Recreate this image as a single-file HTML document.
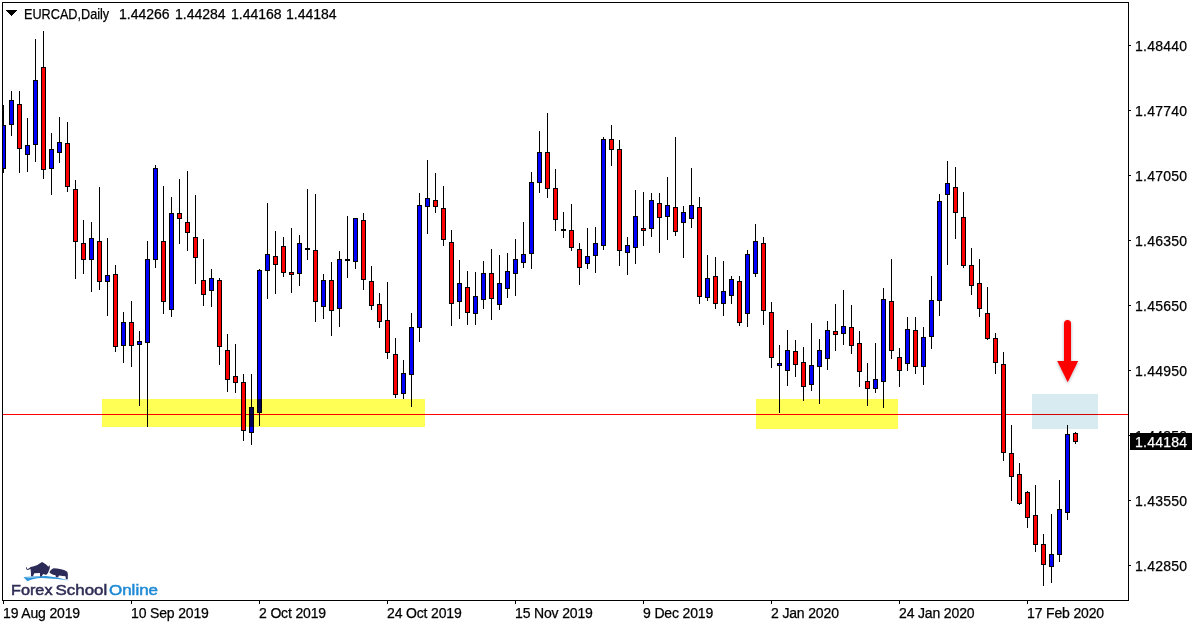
<!DOCTYPE html>
<html><head><meta charset="utf-8"><style>
html,body{margin:0;padding:0;background:#fff;width:1200px;height:627px;overflow:hidden;position:relative}
.t{position:absolute;font-family:"Liberation Sans",sans-serif;font-size:14px;line-height:16px;color:#000;white-space:pre;-webkit-text-stroke:0.25px currentColor}
.pl{position:absolute;left:1135px;letter-spacing:0.25px;-webkit-text-stroke:0.25px currentColor;font-family:"Liberation Sans",sans-serif;font-size:14px;line-height:16px;color:#000;white-space:pre}
.dl{position:absolute;top:605px;letter-spacing:-0.15px;-webkit-text-stroke:0.25px currentColor;font-family:"Liberation Sans",sans-serif;font-size:14px;line-height:16px;color:#000;white-space:pre}
svg{position:absolute;left:0;top:0}
.ov{position:absolute;mix-blend-mode:multiply}
</style></head><body>
<svg width="1200" height="627" shape-rendering="crispEdges">
<defs><clipPath id="cl"><rect x="3" y="3" width="1125" height="597"/></clipPath></defs>
<g fill="#000" clip-path="url(#cl)">
<rect x="3" y="105" width="1" height="68"/>
<rect x="1" y="125" width="5" height="44"/>
<rect x="2" y="126" width="3" height="42" fill="#0000ff"/>
<rect x="11" y="91" width="1" height="45"/>
<rect x="9" y="100" width="5" height="25"/>
<rect x="10" y="101" width="3" height="23" fill="#0000ff"/>
<rect x="19" y="91" width="1" height="82"/>
<rect x="17" y="104" width="5" height="45"/>
<rect x="18" y="105" width="3" height="43" fill="#ff0000"/>
<rect x="27" y="118" width="1" height="54"/>
<rect x="25" y="145" width="5" height="10"/>
<rect x="26" y="146" width="3" height="8" fill="#0000ff"/>
<rect x="35" y="39" width="1" height="123"/>
<rect x="33" y="80" width="5" height="65"/>
<rect x="34" y="81" width="3" height="63" fill="#0000ff"/>
<rect x="43" y="31" width="1" height="148"/>
<rect x="41" y="67" width="5" height="103"/>
<rect x="42" y="68" width="3" height="101" fill="#ff0000"/>
<rect x="51" y="133" width="1" height="62"/>
<rect x="49" y="149" width="5" height="20"/>
<rect x="50" y="150" width="3" height="18" fill="#0000ff"/>
<rect x="59" y="117" width="1" height="46"/>
<rect x="57" y="142" width="5" height="11"/>
<rect x="58" y="143" width="3" height="9" fill="#0000ff"/>
<rect x="67" y="122" width="1" height="70"/>
<rect x="65" y="143" width="5" height="44"/>
<rect x="66" y="144" width="3" height="42" fill="#ff0000"/>
<rect x="75" y="180" width="1" height="99"/>
<rect x="73" y="189" width="5" height="53"/>
<rect x="74" y="190" width="3" height="51" fill="#ff0000"/>
<rect x="83" y="220" width="1" height="54"/>
<rect x="81" y="243" width="5" height="17"/>
<rect x="82" y="244" width="3" height="15" fill="#ff0000"/>
<rect x="91" y="222" width="1" height="70"/>
<rect x="89" y="238" width="5" height="22"/>
<rect x="90" y="239" width="3" height="20" fill="#0000ff"/>
<rect x="99" y="187" width="1" height="103"/>
<rect x="97" y="241" width="5" height="41"/>
<rect x="98" y="242" width="3" height="39" fill="#ff0000"/>
<rect x="107" y="238" width="1" height="78"/>
<rect x="105" y="275" width="5" height="7"/>
<rect x="106" y="276" width="3" height="5" fill="#0000ff"/>
<rect x="115" y="265" width="1" height="87"/>
<rect x="113" y="274" width="5" height="73"/>
<rect x="114" y="275" width="3" height="71" fill="#ff0000"/>
<rect x="123" y="312" width="1" height="51"/>
<rect x="121" y="322" width="5" height="24"/>
<rect x="122" y="323" width="3" height="22" fill="#0000ff"/>
<rect x="131" y="301" width="1" height="66"/>
<rect x="129" y="322" width="5" height="24"/>
<rect x="130" y="323" width="3" height="22" fill="#ff0000"/>
<rect x="139" y="331" width="1" height="75"/>
<rect x="137" y="341" width="5" height="4"/>
<rect x="138" y="342" width="3" height="2" fill="#0000ff"/>
<rect x="147" y="241" width="1" height="186"/>
<rect x="145" y="259" width="5" height="84"/>
<rect x="146" y="260" width="3" height="82" fill="#0000ff"/>
<rect x="155" y="165" width="1" height="103"/>
<rect x="153" y="168" width="5" height="92"/>
<rect x="154" y="169" width="3" height="90" fill="#0000ff"/>
<rect x="163" y="186" width="1" height="128"/>
<rect x="161" y="241" width="5" height="61"/>
<rect x="162" y="242" width="3" height="59" fill="#ff0000"/>
<rect x="171" y="197" width="1" height="120"/>
<rect x="169" y="213" width="5" height="97"/>
<rect x="170" y="214" width="3" height="95" fill="#0000ff"/>
<rect x="179" y="179" width="1" height="65"/>
<rect x="177" y="213" width="5" height="6"/>
<rect x="178" y="214" width="3" height="4" fill="#ff0000"/>
<rect x="187" y="171" width="1" height="80"/>
<rect x="185" y="222" width="5" height="11"/>
<rect x="186" y="223" width="3" height="9" fill="#ff0000"/>
<rect x="195" y="195" width="1" height="89"/>
<rect x="193" y="237" width="5" height="21"/>
<rect x="194" y="238" width="3" height="19" fill="#ff0000"/>
<rect x="203" y="239" width="1" height="67"/>
<rect x="201" y="280" width="5" height="15"/>
<rect x="202" y="281" width="3" height="13" fill="#ff0000"/>
<rect x="211" y="269" width="1" height="38"/>
<rect x="209" y="278" width="5" height="13"/>
<rect x="210" y="279" width="3" height="11" fill="#0000ff"/>
<rect x="219" y="278" width="1" height="87"/>
<rect x="217" y="280" width="5" height="67"/>
<rect x="218" y="281" width="3" height="65" fill="#ff0000"/>
<rect x="227" y="334" width="1" height="58"/>
<rect x="225" y="350" width="5" height="30"/>
<rect x="226" y="351" width="3" height="28" fill="#ff0000"/>
<rect x="235" y="344" width="1" height="49"/>
<rect x="233" y="376" width="5" height="7"/>
<rect x="234" y="377" width="3" height="5" fill="#ff0000"/>
<rect x="243" y="374" width="1" height="67"/>
<rect x="241" y="382" width="5" height="49"/>
<rect x="242" y="383" width="3" height="47" fill="#ff0000"/>
<rect x="251" y="374" width="1" height="71"/>
<rect x="249" y="407" width="5" height="26"/>
<rect x="250" y="408" width="3" height="24" fill="#0000ff"/>
<rect x="259" y="269" width="1" height="157"/>
<rect x="257" y="270" width="5" height="143"/>
<rect x="258" y="271" width="3" height="141" fill="#0000ff"/>
<rect x="267" y="203" width="1" height="96"/>
<rect x="265" y="254" width="5" height="17"/>
<rect x="266" y="255" width="3" height="15" fill="#0000ff"/>
<rect x="275" y="231" width="1" height="63"/>
<rect x="273" y="256" width="5" height="9"/>
<rect x="274" y="257" width="3" height="7" fill="#ff0000"/>
<rect x="283" y="237" width="1" height="40"/>
<rect x="281" y="246" width="5" height="27"/>
<rect x="282" y="247" width="3" height="25" fill="#ff0000"/>
<rect x="291" y="228" width="1" height="65"/>
<rect x="289" y="272" width="5" height="3"/>
<rect x="290" y="273" width="3" height="1" fill="#ff0000"/>
<rect x="299" y="235" width="1" height="51"/>
<rect x="297" y="243" width="5" height="31"/>
<rect x="298" y="244" width="3" height="29" fill="#0000ff"/>
<rect x="307" y="189" width="1" height="71"/>
<rect x="305" y="248" width="5" height="2"/>
<rect x="315" y="194" width="1" height="128"/>
<rect x="313" y="250" width="5" height="52"/>
<rect x="314" y="251" width="3" height="50" fill="#ff0000"/>
<rect x="323" y="274" width="1" height="45"/>
<rect x="321" y="280" width="5" height="27"/>
<rect x="322" y="281" width="3" height="25" fill="#0000ff"/>
<rect x="331" y="262" width="1" height="74"/>
<rect x="329" y="280" width="5" height="31"/>
<rect x="330" y="281" width="3" height="29" fill="#ff0000"/>
<rect x="339" y="251" width="1" height="76"/>
<rect x="337" y="259" width="5" height="50"/>
<rect x="338" y="260" width="3" height="48" fill="#0000ff"/>
<rect x="347" y="216" width="1" height="62"/>
<rect x="345" y="259" width="5" height="2"/>
<rect x="355" y="218" width="1" height="51"/>
<rect x="353" y="218" width="5" height="44"/>
<rect x="354" y="219" width="3" height="42" fill="#0000ff"/>
<rect x="363" y="213" width="1" height="77"/>
<rect x="361" y="220" width="5" height="60"/>
<rect x="362" y="221" width="3" height="58" fill="#ff0000"/>
<rect x="371" y="266" width="1" height="44"/>
<rect x="369" y="281" width="5" height="25"/>
<rect x="370" y="282" width="3" height="23" fill="#ff0000"/>
<rect x="379" y="293" width="1" height="35"/>
<rect x="377" y="304" width="5" height="18"/>
<rect x="378" y="305" width="3" height="16" fill="#ff0000"/>
<rect x="387" y="282" width="1" height="77"/>
<rect x="385" y="320" width="5" height="33"/>
<rect x="386" y="321" width="3" height="31" fill="#ff0000"/>
<rect x="395" y="338" width="1" height="60"/>
<rect x="393" y="354" width="5" height="41"/>
<rect x="394" y="355" width="3" height="39" fill="#ff0000"/>
<rect x="403" y="360" width="1" height="39"/>
<rect x="401" y="373" width="5" height="21"/>
<rect x="402" y="374" width="3" height="19" fill="#0000ff"/>
<rect x="411" y="313" width="1" height="94"/>
<rect x="409" y="327" width="5" height="48"/>
<rect x="410" y="328" width="3" height="46" fill="#0000ff"/>
<rect x="419" y="193" width="1" height="149"/>
<rect x="417" y="205" width="5" height="123"/>
<rect x="418" y="206" width="3" height="121" fill="#0000ff"/>
<rect x="427" y="160" width="1" height="74"/>
<rect x="425" y="198" width="5" height="9"/>
<rect x="426" y="199" width="3" height="7" fill="#0000ff"/>
<rect x="435" y="173" width="1" height="40"/>
<rect x="433" y="200" width="5" height="7"/>
<rect x="434" y="201" width="3" height="5" fill="#ff0000"/>
<rect x="443" y="186" width="1" height="60"/>
<rect x="441" y="208" width="5" height="32"/>
<rect x="442" y="209" width="3" height="30" fill="#ff0000"/>
<rect x="451" y="230" width="1" height="96"/>
<rect x="449" y="242" width="5" height="62"/>
<rect x="450" y="243" width="3" height="60" fill="#ff0000"/>
<rect x="459" y="260" width="1" height="59"/>
<rect x="457" y="283" width="5" height="19"/>
<rect x="458" y="284" width="3" height="17" fill="#0000ff"/>
<rect x="467" y="271" width="1" height="54"/>
<rect x="465" y="287" width="5" height="26"/>
<rect x="466" y="288" width="3" height="24" fill="#ff0000"/>
<rect x="475" y="272" width="1" height="53"/>
<rect x="473" y="296" width="5" height="18"/>
<rect x="474" y="297" width="3" height="16" fill="#0000ff"/>
<rect x="483" y="261" width="1" height="48"/>
<rect x="481" y="273" width="5" height="27"/>
<rect x="482" y="274" width="3" height="25" fill="#0000ff"/>
<rect x="491" y="249" width="1" height="71"/>
<rect x="489" y="273" width="5" height="26"/>
<rect x="490" y="274" width="3" height="24" fill="#ff0000"/>
<rect x="499" y="255" width="1" height="55"/>
<rect x="497" y="283" width="5" height="22"/>
<rect x="498" y="284" width="3" height="20" fill="#0000ff"/>
<rect x="507" y="253" width="1" height="45"/>
<rect x="505" y="271" width="5" height="18"/>
<rect x="506" y="272" width="3" height="16" fill="#0000ff"/>
<rect x="515" y="239" width="1" height="57"/>
<rect x="513" y="259" width="5" height="15"/>
<rect x="514" y="260" width="3" height="13" fill="#0000ff"/>
<rect x="523" y="222" width="1" height="46"/>
<rect x="521" y="254" width="5" height="9"/>
<rect x="522" y="255" width="3" height="7" fill="#0000ff"/>
<rect x="531" y="172" width="1" height="97"/>
<rect x="529" y="182" width="5" height="72"/>
<rect x="530" y="183" width="3" height="70" fill="#0000ff"/>
<rect x="539" y="131" width="1" height="62"/>
<rect x="537" y="152" width="5" height="31"/>
<rect x="538" y="153" width="3" height="29" fill="#0000ff"/>
<rect x="547" y="113" width="1" height="85"/>
<rect x="545" y="152" width="5" height="37"/>
<rect x="546" y="153" width="3" height="35" fill="#ff0000"/>
<rect x="555" y="169" width="1" height="62"/>
<rect x="553" y="188" width="5" height="32"/>
<rect x="554" y="189" width="3" height="30" fill="#ff0000"/>
<rect x="563" y="212" width="1" height="26"/>
<rect x="561" y="229" width="5" height="2"/>
<rect x="571" y="204" width="1" height="47"/>
<rect x="569" y="230" width="5" height="18"/>
<rect x="570" y="231" width="3" height="16" fill="#ff0000"/>
<rect x="579" y="243" width="1" height="42"/>
<rect x="577" y="249" width="5" height="19"/>
<rect x="578" y="250" width="3" height="17" fill="#ff0000"/>
<rect x="587" y="228" width="1" height="41"/>
<rect x="585" y="256" width="5" height="8"/>
<rect x="586" y="257" width="3" height="6" fill="#0000ff"/>
<rect x="595" y="227" width="1" height="46"/>
<rect x="593" y="243" width="5" height="13"/>
<rect x="594" y="244" width="3" height="11" fill="#0000ff"/>
<rect x="603" y="137" width="1" height="113"/>
<rect x="601" y="139" width="5" height="107"/>
<rect x="602" y="140" width="3" height="105" fill="#0000ff"/>
<rect x="611" y="125" width="1" height="41"/>
<rect x="609" y="139" width="5" height="11"/>
<rect x="610" y="140" width="3" height="9" fill="#ff0000"/>
<rect x="619" y="140" width="1" height="126"/>
<rect x="617" y="149" width="5" height="102"/>
<rect x="618" y="150" width="3" height="100" fill="#ff0000"/>
<rect x="627" y="237" width="1" height="38"/>
<rect x="625" y="245" width="5" height="8"/>
<rect x="626" y="246" width="3" height="6" fill="#0000ff"/>
<rect x="635" y="190" width="1" height="74"/>
<rect x="633" y="216" width="5" height="32"/>
<rect x="634" y="217" width="3" height="30" fill="#0000ff"/>
<rect x="643" y="192" width="1" height="54"/>
<rect x="641" y="228" width="5" height="3"/>
<rect x="642" y="229" width="3" height="1" fill="#ff0000"/>
<rect x="651" y="193" width="1" height="44"/>
<rect x="649" y="200" width="5" height="29"/>
<rect x="650" y="201" width="3" height="27" fill="#0000ff"/>
<rect x="659" y="193" width="1" height="60"/>
<rect x="657" y="203" width="5" height="15"/>
<rect x="658" y="204" width="3" height="13" fill="#ff0000"/>
<rect x="667" y="177" width="1" height="63"/>
<rect x="665" y="205" width="5" height="12"/>
<rect x="666" y="206" width="3" height="10" fill="#0000ff"/>
<rect x="675" y="137" width="1" height="99"/>
<rect x="673" y="207" width="5" height="25"/>
<rect x="674" y="208" width="3" height="23" fill="#ff0000"/>
<rect x="683" y="206" width="1" height="52"/>
<rect x="681" y="212" width="5" height="11"/>
<rect x="682" y="213" width="3" height="9" fill="#0000ff"/>
<rect x="691" y="168" width="1" height="60"/>
<rect x="689" y="205" width="5" height="14"/>
<rect x="690" y="206" width="3" height="12" fill="#0000ff"/>
<rect x="699" y="197" width="1" height="107"/>
<rect x="697" y="207" width="5" height="90"/>
<rect x="698" y="208" width="3" height="88" fill="#ff0000"/>
<rect x="707" y="255" width="1" height="46"/>
<rect x="705" y="278" width="5" height="20"/>
<rect x="706" y="279" width="3" height="18" fill="#0000ff"/>
<rect x="715" y="257" width="1" height="52"/>
<rect x="713" y="276" width="5" height="28"/>
<rect x="714" y="277" width="3" height="26" fill="#ff0000"/>
<rect x="723" y="261" width="1" height="55"/>
<rect x="721" y="291" width="5" height="13"/>
<rect x="722" y="292" width="3" height="11" fill="#0000ff"/>
<rect x="731" y="276" width="1" height="28"/>
<rect x="729" y="279" width="5" height="17"/>
<rect x="730" y="280" width="3" height="15" fill="#0000ff"/>
<rect x="739" y="276" width="1" height="50"/>
<rect x="737" y="281" width="5" height="42"/>
<rect x="738" y="282" width="3" height="40" fill="#ff0000"/>
<rect x="747" y="250" width="1" height="77"/>
<rect x="745" y="254" width="5" height="60"/>
<rect x="746" y="255" width="3" height="58" fill="#0000ff"/>
<rect x="755" y="224" width="1" height="53"/>
<rect x="753" y="241" width="5" height="33"/>
<rect x="754" y="242" width="3" height="31" fill="#0000ff"/>
<rect x="763" y="237" width="1" height="88"/>
<rect x="761" y="243" width="5" height="68"/>
<rect x="762" y="244" width="3" height="66" fill="#ff0000"/>
<rect x="771" y="302" width="1" height="66"/>
<rect x="769" y="312" width="5" height="46"/>
<rect x="770" y="313" width="3" height="44" fill="#ff0000"/>
<rect x="779" y="345" width="1" height="68"/>
<rect x="777" y="363" width="5" height="3"/>
<rect x="778" y="364" width="3" height="1" fill="#0000ff"/>
<rect x="787" y="330" width="1" height="56"/>
<rect x="785" y="350" width="5" height="21"/>
<rect x="786" y="351" width="3" height="19" fill="#0000ff"/>
<rect x="795" y="340" width="1" height="37"/>
<rect x="793" y="351" width="5" height="14"/>
<rect x="794" y="352" width="3" height="12" fill="#ff0000"/>
<rect x="803" y="347" width="1" height="54"/>
<rect x="801" y="362" width="5" height="25"/>
<rect x="802" y="363" width="3" height="23" fill="#ff0000"/>
<rect x="811" y="323" width="1" height="68"/>
<rect x="809" y="365" width="5" height="20"/>
<rect x="810" y="366" width="3" height="18" fill="#0000ff"/>
<rect x="819" y="339" width="1" height="65"/>
<rect x="817" y="350" width="5" height="17"/>
<rect x="818" y="351" width="3" height="15" fill="#0000ff"/>
<rect x="827" y="321" width="1" height="49"/>
<rect x="825" y="330" width="5" height="29"/>
<rect x="826" y="331" width="3" height="27" fill="#0000ff"/>
<rect x="835" y="304" width="1" height="47"/>
<rect x="833" y="331" width="5" height="4"/>
<rect x="834" y="332" width="3" height="2" fill="#ff0000"/>
<rect x="843" y="290" width="1" height="55"/>
<rect x="841" y="326" width="5" height="8"/>
<rect x="842" y="327" width="3" height="6" fill="#0000ff"/>
<rect x="851" y="305" width="1" height="49"/>
<rect x="849" y="327" width="5" height="19"/>
<rect x="850" y="328" width="3" height="17" fill="#ff0000"/>
<rect x="859" y="331" width="1" height="56"/>
<rect x="857" y="343" width="5" height="29"/>
<rect x="858" y="344" width="3" height="27" fill="#ff0000"/>
<rect x="867" y="363" width="1" height="43"/>
<rect x="865" y="381" width="5" height="8"/>
<rect x="866" y="382" width="3" height="6" fill="#ff0000"/>
<rect x="875" y="343" width="1" height="50"/>
<rect x="873" y="379" width="5" height="10"/>
<rect x="874" y="380" width="3" height="8" fill="#0000ff"/>
<rect x="883" y="288" width="1" height="120"/>
<rect x="881" y="299" width="5" height="83"/>
<rect x="882" y="300" width="3" height="81" fill="#0000ff"/>
<rect x="891" y="259" width="1" height="100"/>
<rect x="889" y="301" width="5" height="50"/>
<rect x="890" y="302" width="3" height="48" fill="#ff0000"/>
<rect x="899" y="348" width="1" height="39"/>
<rect x="897" y="357" width="5" height="14"/>
<rect x="898" y="358" width="3" height="12" fill="#ff0000"/>
<rect x="907" y="317" width="1" height="54"/>
<rect x="905" y="329" width="5" height="35"/>
<rect x="906" y="330" width="3" height="33" fill="#0000ff"/>
<rect x="915" y="317" width="1" height="57"/>
<rect x="913" y="330" width="5" height="37"/>
<rect x="914" y="331" width="3" height="35" fill="#ff0000"/>
<rect x="923" y="327" width="1" height="58"/>
<rect x="921" y="337" width="5" height="30"/>
<rect x="922" y="338" width="3" height="28" fill="#0000ff"/>
<rect x="931" y="276" width="1" height="73"/>
<rect x="929" y="300" width="5" height="37"/>
<rect x="930" y="301" width="3" height="35" fill="#0000ff"/>
<rect x="939" y="194" width="1" height="122"/>
<rect x="937" y="201" width="5" height="100"/>
<rect x="938" y="202" width="3" height="98" fill="#0000ff"/>
<rect x="947" y="161" width="1" height="104"/>
<rect x="945" y="183" width="5" height="12"/>
<rect x="946" y="184" width="3" height="10" fill="#0000ff"/>
<rect x="955" y="167" width="1" height="72"/>
<rect x="953" y="187" width="5" height="26"/>
<rect x="954" y="188" width="3" height="24" fill="#ff0000"/>
<rect x="963" y="192" width="1" height="76"/>
<rect x="961" y="217" width="5" height="49"/>
<rect x="962" y="218" width="3" height="47" fill="#ff0000"/>
<rect x="971" y="248" width="1" height="47"/>
<rect x="969" y="265" width="5" height="21"/>
<rect x="970" y="266" width="3" height="19" fill="#ff0000"/>
<rect x="979" y="259" width="1" height="58"/>
<rect x="977" y="283" width="5" height="26"/>
<rect x="978" y="284" width="3" height="24" fill="#ff0000"/>
<rect x="987" y="287" width="1" height="53"/>
<rect x="985" y="313" width="5" height="26"/>
<rect x="986" y="314" width="3" height="24" fill="#ff0000"/>
<rect x="995" y="333" width="1" height="41"/>
<rect x="993" y="338" width="5" height="25"/>
<rect x="994" y="339" width="3" height="23" fill="#ff0000"/>
<rect x="1003" y="352" width="1" height="109"/>
<rect x="1001" y="364" width="5" height="89"/>
<rect x="1002" y="365" width="3" height="87" fill="#ff0000"/>
<rect x="1011" y="425" width="1" height="76"/>
<rect x="1009" y="453" width="5" height="24"/>
<rect x="1010" y="454" width="3" height="22" fill="#ff0000"/>
<rect x="1019" y="463" width="1" height="42"/>
<rect x="1017" y="474" width="5" height="30"/>
<rect x="1018" y="475" width="3" height="28" fill="#ff0000"/>
<rect x="1027" y="491" width="1" height="37"/>
<rect x="1025" y="492" width="5" height="26"/>
<rect x="1026" y="493" width="3" height="24" fill="#ff0000"/>
<rect x="1035" y="485" width="1" height="67"/>
<rect x="1033" y="515" width="5" height="30"/>
<rect x="1034" y="516" width="3" height="28" fill="#ff0000"/>
<rect x="1043" y="534" width="1" height="52"/>
<rect x="1041" y="544" width="5" height="21"/>
<rect x="1042" y="545" width="3" height="19" fill="#ff0000"/>
<rect x="1051" y="514" width="1" height="69"/>
<rect x="1049" y="554" width="5" height="13"/>
<rect x="1050" y="555" width="3" height="11" fill="#0000ff"/>
<rect x="1059" y="480" width="1" height="82"/>
<rect x="1057" y="509" width="5" height="46"/>
<rect x="1058" y="510" width="3" height="44" fill="#0000ff"/>
<rect x="1067" y="425" width="1" height="95"/>
<rect x="1065" y="434" width="5" height="79"/>
<rect x="1066" y="435" width="3" height="77" fill="#0000ff"/>
<rect x="1075" y="432" width="1" height="12"/>
<rect x="1073" y="433" width="5" height="9"/>
<rect x="1074" y="434" width="3" height="7" fill="#ff0000"/>
</g>
</svg>
<div class="ov" style="left:102px;top:399px;width:323px;height:28px;background:#ffff55"></div>
<div class="ov" style="left:756px;top:399px;width:142px;height:30px;background:#ffff55"></div>
<div class="ov" style="left:3px;top:414px;width:1125px;height:1px;background:#ff0000"></div>
<div class="ov" style="left:1032px;top:394px;width:66px;height:35px;background:#d8ebf1"></div>
<svg width="1200" height="627" shape-rendering="crispEdges">
<g fill="#000">
<rect x="2" y="2" width="1127" height="1"/>
<rect x="2" y="2" width="1" height="599"/>
<rect x="1128" y="2" width="1" height="599"/>
<rect x="2" y="600" width="1127" height="1"/>
<rect x="1129" y="45" width="2" height="1"/><rect x="1129" y="110" width="2" height="1"/><rect x="1129" y="175" width="2" height="1"/><rect x="1129" y="240" width="2" height="1"/><rect x="1129" y="305" width="2" height="1"/><rect x="1129" y="370" width="2" height="1"/><rect x="1129" y="435" width="2" height="1"/><rect x="1129" y="500" width="2" height="1"/><rect x="1129" y="565" width="2" height="1"/><rect x="3" y="601" width="1" height="3"/><rect x="131" y="601" width="1" height="3"/><rect x="259" y="601" width="1" height="3"/><rect x="387" y="601" width="1" height="3"/><rect x="515" y="601" width="1" height="3"/><rect x="643" y="601" width="1" height="3"/><rect x="771" y="601" width="1" height="3"/><rect x="899" y="601" width="1" height="3"/><rect x="1027" y="601" width="1" height="3"/>
</g>
</svg>
<svg width="1200" height="627" style="overflow:visible">
<defs><filter id="sh" x="-50%" y="-50%" width="200%" height="200%"><feGaussianBlur in="SourceAlpha" stdDeviation="1.6"/><feOffset dx="0.3" dy="1" result="b"/><feFlood flood-color="#203040" flood-opacity="0.4"/><feComposite in2="b" operator="in"/><feMerge><feMergeNode/><feMergeNode in="SourceGraphic"/></feMerge></filter></defs>
<g filter="url(#sh)" fill="#ff0000">
<rect x="1064" y="320" width="7" height="44" rx="3.5"/>
<path d="M1057.2 361 L1078.2 361 L1067.7 382.2 Z"/>
</g>
</svg>
<svg width="1200" height="627" shape-rendering="crispEdges"><polygon points="6,10 17,10 11.5,16" fill="#000"/></svg>
<div class="t" style="left:24px;top:6px;transform:scaleX(0.905);transform-origin:0 0">EURCAD,Daily</div>
<div class="t" style="left:119px;top:6px">1.44266</div>
<div class="t" style="left:175px;top:6px">1.44284</div>
<div class="t" style="left:231px;top:6px">1.44168</div>
<div class="t" style="left:286px;top:6px">1.44184</div>
<div class="pl" style="top:38px">1.48440</div><div class="pl" style="top:103px">1.47740</div><div class="pl" style="top:168px">1.47050</div><div class="pl" style="top:233px">1.46350</div><div class="pl" style="top:298px">1.45650</div><div class="pl" style="top:363px">1.44950</div><div class="pl" style="top:428px">1.44250</div><div class="pl" style="top:493px">1.43550</div><div class="pl" style="top:558px">1.42850</div>
<div class="dl" style="left:3px">19 Aug 2019</div><div class="dl" style="left:131px">10 Sep 2019</div><div class="dl" style="left:259px">2 Oct 2019</div><div class="dl" style="left:387px">24 Oct 2019</div><div class="dl" style="left:515px">15 Nov 2019</div><div class="dl" style="left:643px">9 Dec 2019</div><div class="dl" style="left:771px">2 Jan 2020</div><div class="dl" style="left:899px">24 Jan 2020</div><div class="dl" style="left:1027px">17 Feb 2020</div>
<div style="position:absolute;left:1130px;top:433px;width:62px;height:17px;background:#000"></div>
<div class="pl" style="top:434px;color:#fff">1.44184</div>
<svg width="1200" height="627">
<g transform="translate(20,558) scale(0.04333)">
<path d="M80 440 Q300 432 600 418 Q850 440 1135 522 Q900 478 500 462 Q300 470 170 535 Z" fill="#2a95dc"/>
<path d="M90 445 Q300 438 560 428 Q400 445 200 470 Z" fill="#8cc6e6"/>
<g fill="#2c2b57">
<path d="M138 212 Q130 250 160 272 Q200 285 240 250 L250 300 L255 420 L300 422 L330 350 L460 345 L462 425 L505 425 L515 390 L545 372 Q585 392 615 378 Q655 345 668 290 Q690 250 688 215 Q695 180 678 160 Q672 200 650 195 Q610 150 540 110 L510 92 Q470 110 400 162 Q320 192 245 208 Q200 250 168 255 Q150 245 158 212 Z"/>
<path d="M678 330 Q700 270 770 235 Q850 238 950 262 Q1040 278 1090 318 Q1108 360 1105 400 L1102 492 L1058 492 L1050 420 Q1000 412 900 402 L880 442 L828 442 L820 400 Q760 392 720 365 Q690 350 678 330 Z"/>
</g>
</g>
<g font-family="Liberation Sans" font-size="15" stroke-width="0.5">
<text x="11" y="595" fill="#2e2d55" stroke="#2e2d55" textLength="41.5" lengthAdjust="spacingAndGlyphs">Forex</text>
<text x="55.6" y="595" fill="#2e2d55" stroke="#2e2d55" textLength="51.6" lengthAdjust="spacingAndGlyphs">School</text>
<text x="109" y="595" fill="#1e8ad6" stroke="#1e8ad6" textLength="49" lengthAdjust="spacingAndGlyphs">Online</text>
</g>
</svg>
</body></html>
